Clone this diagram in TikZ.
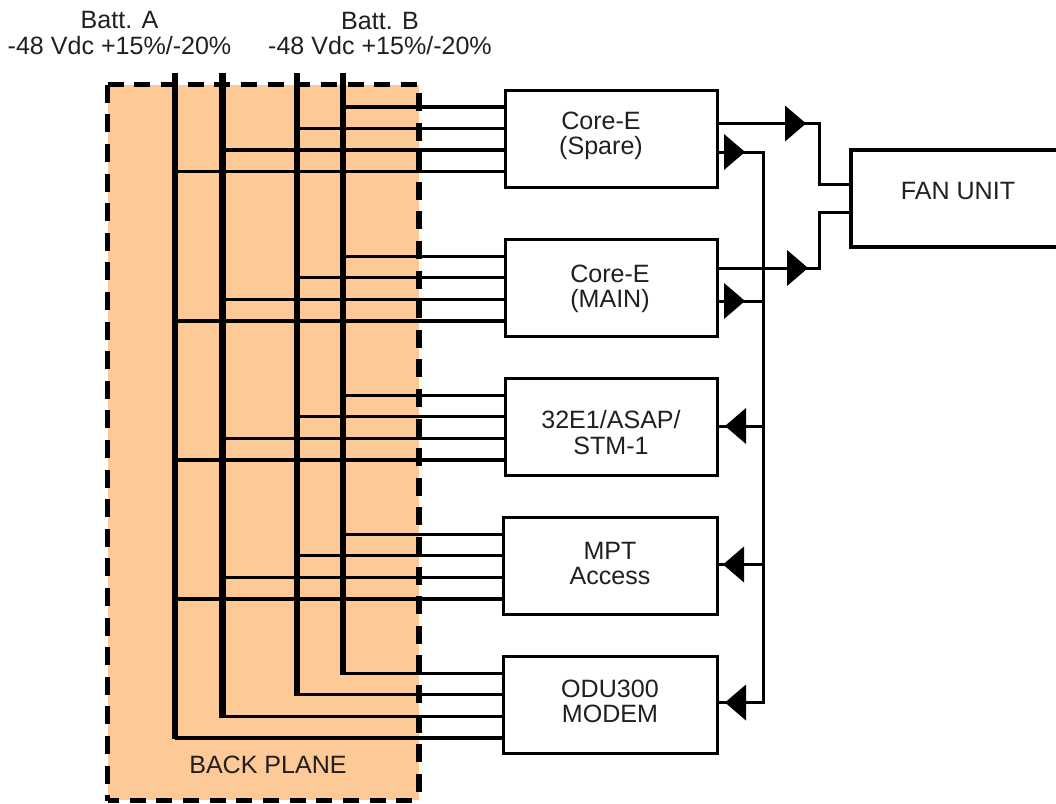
\documentclass[tikz,border=0pt]{standalone}
\usepackage{fontspec}
\setmainfont{Liberation Sans}
\usetikzlibrary{shapes.geometric}
\definecolor{planefill}{RGB}{253,201,151}
\definecolor{labelink}{RGB}{35,31,32}
\tikzset{
  card/.style={rectangle, draw=black, fill=white, line width=2.25pt, inner sep=0pt, minimum width=159pt, minimum height=72.75pt},
  caption/.style={text=labelink, align=center, inner sep=0pt, font=\fontsize{18.8}{18.9}\selectfont},
  driver/.style={isosceles triangle, isosceles triangle stretches, fill=black, inner sep=0pt, outer sep=0pt, minimum width=27pt, minimum height=15.75pt, anchor=apex},
  bus/.style={line width=4.8pt},
  feed/.style={line width=2.4pt},
  wire/.style={line width=2.25pt},
  edgeh/.style={line width=3.75pt, dash pattern=on 12pt off 8pt},
  edgev/.style={dash pattern=on 13.5pt off 8.7pt}
}
\begin{document}
\begin{tikzpicture}[x=.75pt, y=-.75pt]
  \useasboundingbox (0,0) rectangle (1056,803);

  % back plane
  \node[fill=planefill, inner sep=0pt, minimum width=233.25pt, minimum height=536.6pt] (plane) at (263.5,442.75) {};
  \draw[edgeh] (plane.north west) -- (plane.north east);
  \draw[edgeh, dash phase=3.5pt] (plane.south west) -- (plane.south east);
  \draw[edgev, line width=3.75pt] (plane.north west) -- (plane.south west);
  \draw[edgev, line width=4.8pt, dash phase=16pt] (plane.north east) -- (plane.south east);

  \coordinate (bus1) at (175,73);
  \coordinate (bus2) at (222.5,73);
  \coordinate (bus3) at (297,73);
  \coordinate (bus4) at (343,73);

  % cards
  \node[card] (spare) at (611,138.5) {};
  \node[card] (main) at (611,288) {};
  \node[card] (e1) at (611,427) {};
  \node[card, minimum width=160.5pt] (mpt) at (610,566) {};
  \node[card, minimum width=160.5pt] (odu) at (610,705) {};
  \node[card, line width=3.4pt, minimum width=160.5pt] (fan) at (958,198.5) {};

  \foreach \card in {spare,main,e1,mpt,odu}
    \foreach \from/\off in {bus4/23.6pt,bus3/7.8pt,bus2/-8.6pt,bus1/-24.8pt}
      \draw[feed] ([yshift=\off]\card.west -| \from) -- ([yshift=\off]\card.west);

  \foreach \from/\off in {bus1/-24.8pt,bus2/-8.6pt,bus3/7.8pt,bus4/23.6pt}
    \draw[bus] (\from) -- ([yshift=\off-.9pt]odu.west -| \from);

  % drivers
  \node[driver] (drv1) at (806,123.5) {};
  \node[driver] (drv2) at (745,152) {};
  \node[driver] (drv3) at (808,268) {};
  \node[driver] (drv4) at (745,301) {};
  \node[driver, shape border rotate=180] (drv5) at (725,426) {};
  \node[driver, shape border rotate=180] (drv6) at (723,564.5) {};
  \node[driver, shape border rotate=180] (drv7) at (725,702.5) {};

  \coordinate (alarm) at (763,152);
  \coordinate (tapa) at (819,184);
  \coordinate (tapb) at (819,212);
  \coordinate (fana) at (851,184);
  \coordinate (fanb) at (851,212);

  \draw[wire, line cap=rect] (drv2.apex -| alarm) -- (drv7.apex -| alarm);
  \foreach \drv/\card in {drv2/spare,drv4/main,drv5/e1,drv6/mpt,drv7/odu}
    \draw[wire] (\drv.apex -| \card.east) -- (\drv.apex -| alarm);

  \draw[wire] (drv1.apex -| spare.east) -- (drv1.apex);
  \draw[wire] (drv3.apex -| main.east) -- (drv3.apex);
  \draw[wire] (drv1.apex) -| (tapa) -- (fana);
  \draw[wire] (drv3.apex) -| (tapb) -- (fanb);

  % labels
  \node[caption] (batta) at (119.5,33) {Batt. A\\-48 Vdc +15\%/-20\%};
  \node[caption] (battb) at (380,33.5) {Batt. B\\-48 Vdc +15\%/-20\%};
  \node[caption] (sparetext) at (601,135.5) {Core-E\\(Spare)};
  \node[caption] (maintext) at (610,288.5) {Core-E\\(MAIN)};
  \node[caption] (e1text) at (611,432.5) {32E1/ASAP/\\STM-1};
  \node[caption] (mpttext) at (610,563.5) {MPT\\Access};
  \node[caption] (odutext) at (610,701) {ODU300\\MODEM};
  \node[caption] (fantext) at (958,191) {FAN UNIT};
  \node[caption] (planetext) at (268,765) {BACK PLANE};
\end{tikzpicture}
\end{document}
